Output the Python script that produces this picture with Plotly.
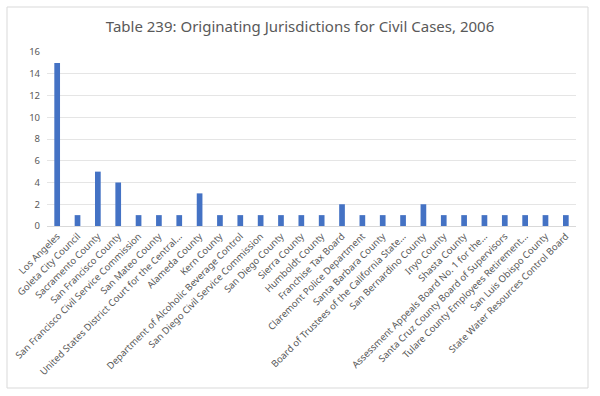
import plotly.graph_objects as go

categories = [
    "Los Angeles",
    "Goleta City Council",
    "Sacramento County",
    "San Francisco County",
    "San Francisco Civil Service Commission",
    "San Mateo County",
    "United States District Court for the Central...",
    "Alameda County",
    "Kern County",
    "Department of Alcoholic Beverage Control",
    "San Diego Civil Service Commission",
    "San Diego County",
    "Sierra County",
    "Humboldt County",
    "Franchise Tax Board",
    "Claremont Police Department",
    "Santa Barbara County",
    "Board of Trustees of the California State...",
    "San Bernardino County",
    "Inyo County",
    "Shasta County",
    "Assessment Appeals Board No. 1 for the...",
    "Santa Cruz County Board of Supervisors",
    "Tulare County Employees Retirement...",
    "San Luis Obispo County",
    "State Water Resources Control Board",
]
values = [15, 1, 5, 4, 1, 1, 1, 3, 1, 1, 1, 1, 1, 1, 2, 1, 1, 1, 2, 1, 1, 1, 1, 1, 1, 1]
y_ticks = [0, 2, 4, 6, 8, 10, 12, 14, 16]

title_text = "Table 239: Originating Jurisdictions for Civil Cases, 2006"

fig = go.Figure(go.Bar(x=categories, y=values, marker_color="#4472C4", marker_line_width=0,
                       hoverinfo="skip"))

L, R, T, B = 47, 24, 52, 170
W, H = 600, 396
pw, ph = W - L - R, H - T - B

fig.update_layout(
    width=W, height=H,
    margin=dict(l=L, r=R, t=T, b=B, autoexpand=False),
    paper_bgcolor="white", plot_bgcolor="white",
    bargap=0.72,
    showlegend=False,
    font=dict(family="Noto Sans", color="#595959"),
    title=dict(text=title_text, x=0.5, xanchor="center", y=1 - 27 / H, yanchor="middle",
               font=dict(size=15, color="#595959", family="Noto Sans")),
    xaxis=dict(tickangle=-45, tickfont=dict(size=9.5, color="#595959"), automargin=False,
               showline=True, linecolor="#D9D9D9", linewidth=1, ticks="", showgrid=False),
    yaxis=dict(range=[0, 16], tickvals=y_ticks, tickfont=dict(size=9.5, color="#595959"),
               gridcolor="#E5E5E5", gridwidth=1, zeroline=False, showline=False,
               automargin=False, ticklabelstandoff=6),
    shapes=[dict(type="rect", xref="paper", yref="paper",
                 x0=(7 - L) / pw, x1=(588 - L) / pw,
                 y0=(T + ph - 388) / ph, y1=(T + ph - 7) / ph,
                 line=dict(color="#D9D9D9", width=1), fillcolor="rgba(0,0,0,0)", layer="below")],
)

fig.write_html("out.html", config={"displayModeBar": False, "staticPlot": True},
               post_script="document.body.style.margin='0';document.body.style.padding='0';")
